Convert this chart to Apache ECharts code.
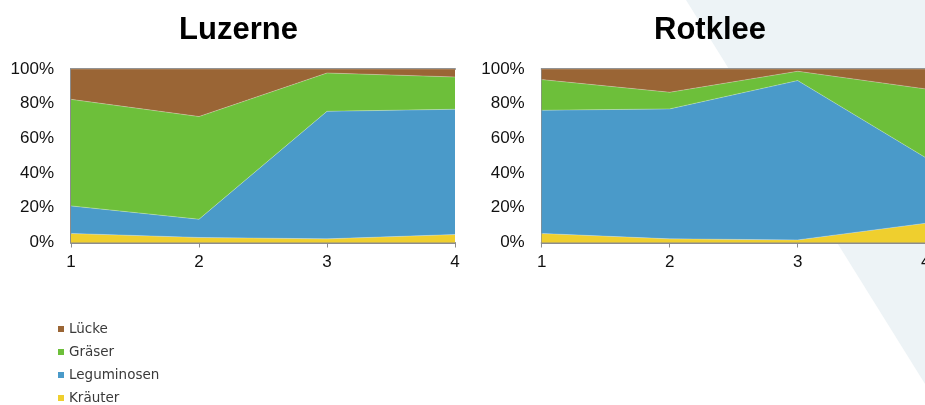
<!DOCTYPE html>
<html>
<head>
<meta charset="utf-8">
<script src="https://cdn.jsdelivr.net/npm/echarts@6/dist/echarts.min.js"></script>
<style>
  html, body { margin: 0; padding: 0; background: #ffffff; overflow: hidden; width: 925px; height: 405px; }
  #chart { width: 935px; height: 420px; }
</style>
</head>
<body>
<div id="chart"></div>
<script>
// Cuts (Schnitte) along the x axis
const cuts = ['1', '2', '3', '4'];

// Share of each group per cut, in percent (stacked to 100)
const luzerneKraeuter    = [5.2, 2.9, 2.1, 4.6];
const luzerneLeguminosen = [15.9, 10.5, 73.5, 72.2];
const luzerneGraeser     = [61.4, 59.2, 22.1, 18.6];
const luzerneLuecke      = [17.5, 27.4, 2.3, 4.6];

const rotkleeKraeuter    = [5.2, 2.1, 1.5, 11.1];
const rotkleeLeguminosen = [71.0, 74.9, 91.8, 37.8];
const rotkleeGraeser     = [17.7, 9.6, 5.4, 39.6];
const rotkleeLuecke      = [6.1, 13.4, 1.3, 11.5];

const groupNames = ['Kräuter', 'Leguminosen', 'Gräser', 'Lücke'];
const legendOrder = ['Lücke', 'Gräser', 'Leguminosen', 'Kräuter'];
const colors = {
  'Kräuter': '#efcf2e',
  'Leguminosen': '#4a9ac9',
  'Gräser': '#6dbf3a',
  'Lücke': '#9a6535'
};

const panels = [
  { title: 'Luzerne', data: [luzerneKraeuter, luzerneLeguminosen, luzerneGraeser, luzerneLuecke] },
  { title: 'Rotklee', data: [rotkleeKraeuter, rotkleeLeguminosen, rotkleeGraeser, rotkleeLuecke] }
];

const font = 'Liberation Sans, Arial, sans-serif';
const plotLeft = [71, 541.7];
const titleCenter = [238.5, 710];
const plotWidth = 384;
const plotTop = 69;
const plotHeight = 173.5;
const axisGrey = '#8c8c8c';

const chart = echarts.init(document.getElementById('chart'), null, { renderer: 'canvas' });

const grids = [], xAxes = [], yAxes = [], series = [], titles = [];
panels.forEach((p, i) => {
  grids.push({ left: plotLeft[i], top: plotTop, width: plotWidth, height: plotHeight, containLabel: false });
  titles.push({
    text: p.title,
    left: titleCenter[i],
    top: 15,
    padding: 0,
    textAlign: 'center',
    textStyle: { fontFamily: font, fontSize: 31, fontWeight: 'bold', color: '#000000' }
  });
  // bottom category axis
  xAxes.push({
    type: 'category', gridIndex: i, data: cuts, boundaryGap: false, position: 'bottom',
    axisLine: { show: true, lineStyle: { color: axisGrey, width: 2 } },
    axisTick: { show: true, length: 5, lineStyle: { color: axisGrey, width: 1 } },
    axisLabel: { fontFamily: font, fontSize: 17, color: '#111111', margin: 11 },
    splitLine: { show: false }
  });
  // top border of the plot
  xAxes.push({
    type: 'category', gridIndex: i, data: cuts, boundaryGap: false, position: 'top',
    axisLine: { show: true, lineStyle: { color: axisGrey, width: 2 } },
    axisTick: { show: false }, axisLabel: { show: false }, splitLine: { show: false }
  });
  yAxes.push({
    type: 'value', gridIndex: i, min: 0, max: 100, interval: 20,
    axisLine: { show: true, lineStyle: { color: axisGrey, width: 2 } },
    axisTick: { show: false },
    axisLabel: { fontFamily: font, fontSize: 17, color: '#111111', margin: 17, formatter: '{value}%' },
    splitLine: { show: false }
  });
  groupNames.forEach((name, k) => {
    series.push({
      name: name, type: 'line', xAxisIndex: i * 2, yAxisIndex: i,
      stack: 'panel' + i, data: p.data[k],
      symbol: 'none', smooth: false,
      lineStyle: { width: 0.8, color: 'rgba(255,255,255,0.35)' },
      areaStyle: { color: colors[name], opacity: 1 },
      itemStyle: { color: colors[name] },
      emphasis: { disabled: true },
      silent: true, animation: false
    });
  });
});

chart.setOption({
  backgroundColor: '#ffffff',
  animation: false,
  title: titles,
  graphic: [{
    type: 'polygon', z: -10, silent: true,
    shape: { points: [[686, 0], [935, 0], [935, 400]] },
    style: { fill: '#edf3f6' }
  }],
  legend: {
    orient: 'vertical', left: 58, top: 322, padding: 0,
    icon: 'rect', itemWidth: 6, itemHeight: 6, itemGap: 9,
    data: legendOrder,
    selectedMode: false,
    textStyle: { fontFamily: 'DejaVu Sans, sans-serif', fontSize: 13.5, color: '#3a3a3a', lineHeight: 14 }
  },
  grid: grids,
  xAxis: xAxes,
  yAxis: yAxes,
  series: series
});
</script>
</body>
</html>
